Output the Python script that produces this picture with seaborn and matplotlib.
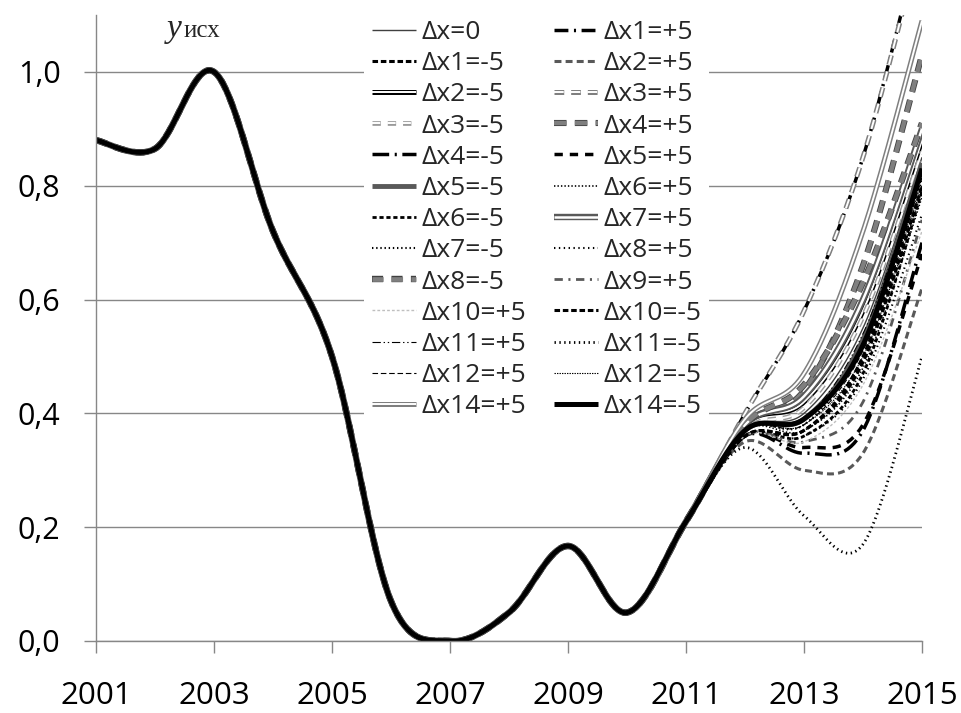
import numpy as np
import pandas as pd
import matplotlib
matplotlib.use("Agg")
import matplotlib.pyplot as plt
import matplotlib.patheffects as pe
import seaborn as sns

# common part of all series (2001-2011)
years_base = [2001, 2002, 2003, 2004, 2005, 2006, 2007, 2008, 2009, 2010, 2011]
y_base = [0.88, 0.865, 1.0, 0.72, 0.50, 0.07, 0.0, 0.05, 0.167, 0.05, 0.21]

# forecast years, one value per series
years_tail = [2012, 2013, 2014, 2015]
labels = ["Δx=0", "Δx1=+5", "Δx1=-5", "Δx2=+5", "Δx2=-5", "Δx3=+5", "Δx3=-5",
          "Δx4=+5", "Δx4=-5", "Δx5=+5", "Δx5=-5", "Δx6=+5", "Δx6=-5", "Δx7=+5",
          "Δx7=-5", "Δx8=+5", "Δx8=-5", "Δx9=+5", "Δx10=+5", "Δx10=-5",
          "Δx11=+5", "Δx11=-5", "Δx12=+5", "Δx12=-5", "Δx14=+5", "Δx14=-5"]
y_2012 = [0.37, 0.40, 0.36, 0.35, 0.38, 0.40, 0.37, 0.38, 0.36, 0.36, 0.37, 0.37, 0.36,
          0.38, 0.37, 0.36, 0.38, 0.36, 0.36, 0.36, 0.37, 0.34, 0.37, 0.37, 0.39, 0.37]
y_2013 = [0.40, 0.58, 0.37, 0.30, 0.42, 0.58, 0.41, 0.44, 0.33, 0.34, 0.39, 0.37, 0.36,
          0.43, 0.38, 0.36, 0.45, 0.35, 0.35, 0.37, 0.39, 0.22, 0.38, 0.38, 0.47, 0.39]
y_2014 = [0.55, 0.85, 0.50, 0.33, 0.58, 0.85, 0.57, 0.66, 0.37, 0.38, 0.53, 0.48, 0.47,
          0.60, 0.52, 0.46, 0.63, 0.42, 0.45, 0.49, 0.54, 0.17, 0.51, 0.50, 0.72, 0.52]
y_2015 = [0.85, 1.25, 0.82, 0.62, 0.88, 1.24, 0.86, 1.03, 0.70, 0.68, 0.84, 0.78, 0.79,
          0.90, 0.81, 0.75, 0.91, 0.74, 0.72, 0.80, 0.83, 0.50, 0.80, 0.79, 1.09, 0.83]

y_ticks = [0.0, 0.2, 0.4, 0.6, 0.8, 1.0]
x_ticks = [2001, 2003, 2005, 2007, 2009, 2011, 2013, 2015]


def double(c, w):
    return [pe.Stroke(linewidth=w, foreground=c), pe.Normal()]


# line styles (same order as labels)
styles = [
    dict(color="#404040", lw=1.0),
    dict(color="black", lw=2.5, ls=(0, (10, 4, 1.5, 4))),
    dict(color="black", lw=2.2, ls=(0, (4, 2))),
    dict(color="#595959", lw=2.2, ls=(0, (5, 3))),
    dict(color="white", lw=1.4, pe=double("black", 3.6)),
    dict(color="white", lw=1.4, ls=(0, (7, 5)), pe=double("#7f7f7f", 3.6)),
    dict(color="white", lw=1.4, ls=(0, (6, 5)), pe=double("#9a9a9a", 3.4)),
    dict(color="#7f7f7f", lw=3.2, ls=(0, (9, 6)), pe=double("#404040", 4.4)),
    dict(color="black", lw=2.5, ls=(0, (12, 4, 1.5, 4))),
    dict(color="black", lw=2.5, ls=(0, (6, 5))),
    dict(color="#595959", lw=3.5),
    dict(color="black", lw=1.2, ls=(0, (1, 1.5))),
    dict(color="black", lw=2.0, ls=(0, (3, 2))),
    dict(color="white", lw=1.8, pe=double("#595959", 4.6)),
    dict(color="black", lw=1.5, ls=(0, (1, 2))),
    dict(color="black", lw=1.5, ls=(0, (1, 2.5))),
    dict(color="#7f7f7f", lw=3.4, ls=(0, (8, 6)), pe=double("#404040", 4.6)),
    dict(color="#595959", lw=2.0, ls=(0, (6, 4, 1.5, 4))),
    dict(color="#bfbfbf", lw=1.0, ls=(0, (2, 1.5))),
    dict(color="black", lw=2.2, ls=(0, (4, 2))),
    dict(color="black", lw=0.8, ls=(0, (6, 2, 1, 2, 1, 2))),
    dict(color="black", lw=2.0, ls=(0, (1, 2.5))),
    dict(color="black", lw=0.8, ls=(0, (4, 2))),
    dict(color="black", lw=0.8, ls=(0, (1, 0.8))),
    dict(color="white", lw=1.4, pe=double("#7f7f7f", 3.6)),
    dict(color="black", lw=3.6),
]


def smooth(xs, ys, n=40):
    # Excel-like smoothed line: Bezier segments with Catmull-Rom tangents
    xs = np.asarray(xs, float)
    ys = np.asarray(ys, float)
    px = np.concatenate([[xs[0]], xs, [xs[-1]]])
    py = np.concatenate([[ys[0]], ys, [ys[-1]]])
    t = np.linspace(0, 1, n)
    ox, oy = [], []
    for i in range(1, len(px) - 2):
        p0 = np.array([px[i], py[i]])
        p3 = np.array([px[i + 1], py[i + 1]])
        c1 = p0 + (np.array([px[i + 1], py[i + 1]]) - np.array([px[i - 1], py[i - 1]])) / 6
        c2 = p3 - (np.array([px[i + 2], py[i + 2]]) - np.array([px[i], py[i]])) / 6
        b = ((1 - t) ** 3)[:, None] * p0 + (3 * (1 - t) ** 2 * t)[:, None] * c1 \
            + (3 * (1 - t) * t ** 2)[:, None] * c2 + (t ** 3)[:, None] * p3
        if i > 1:
            b = b[1:]
        ox.append(b[:, 0])
        oy.append(b[:, 1])
    return np.concatenate(ox), np.concatenate(oy)


sns.set_style("white")
plt.rcParams["font.family"] = ["Open Sans", "DejaVu Sans"]
plt.rcParams["lines.scale_dashes"] = False

fig = plt.figure(figsize=(9.62, 7.13), dpi=100)
ax = fig.add_axes([96 / 962, 1 - 641 / 713, 826 / 962, 626 / 713])

handles = []
for i, lab in enumerate(labels):
    st = styles[i]
    xs = years_base + years_tail
    ys = y_base + [y_2012[i], y_2013[i], y_2014[i], y_2015[i]]
    sx, sy = smooth(xs, ys)
    df = pd.DataFrame({"x": sx, "y": sy})
    sns.lineplot(data=df, x="x", y="y", ax=ax, estimator=None, sort=False,
                 color=st["color"], linewidth=st["lw"], linestyle=st.get("ls", "-"),
                 path_effects=st.get("pe"), label=lab, legend=False,
                 solid_capstyle="butt", dash_capstyle="butt")
    handles.append(ax.lines[-1])

ax.set_xlim(2001, 2015)
ax.set_ylim(0, 1.1)
ax.set_xlabel("")
ax.set_ylabel("")
ax.set_xticks(x_ticks)
ax.set_xticklabels([str(v) for v in x_ticks], fontsize=22.5)
ax.set_yticks(y_ticks)
ax.set_yticklabels([f"{v:.1f}".replace(".", ",") for v in y_ticks], fontsize=22)
ax.yaxis.grid(True, color="#878787", lw=1)
ax.xaxis.grid(False)
for s in ["top", "right"]:
    ax.spines[s].set_visible(False)
for s in ["left", "bottom"]:
    ax.spines[s].set_color("#878787")
    ax.spines[s].set_linewidth(1)
ax.tick_params(axis="both", direction="out", length=8.5, width=1, color="#878787",
               left=True, bottom=True, labelcolor="black")
ax.tick_params(axis="x", pad=20.5)
ax.tick_params(axis="y", pad=17)

# legend in two columns, filled row by row like the original
order = list(range(0, len(labels), 2)) + list(range(1, len(labels), 2))
leg = ax.legend([handles[k] for k in order], [labels[k] for k in order],
                ncol=2, loc="upper left", bbox_to_anchor=(364 / 962, 1 - 12 / 713),
                bbox_transform=fig.transFigure, fontsize=19, frameon=True,
                facecolor="white", edgecolor="none", framealpha=1, fancybox=False,
                borderpad=0.3, labelspacing=0.235, handlelength=1.67, handletextpad=0.19,
                columnspacing=1.07, borderaxespad=0)

fig.text(167 / 962, 1 - 37 / 713, "y", family="Liberation Serif", style="italic",
         fontsize=24, va="baseline", ha="left")
fig.text(184 / 962, 1 - 37 / 713, "исх", family="Liberation Serif",
         fontsize=18, va="baseline", ha="left")

fig.savefig("out.png", dpi=100)
